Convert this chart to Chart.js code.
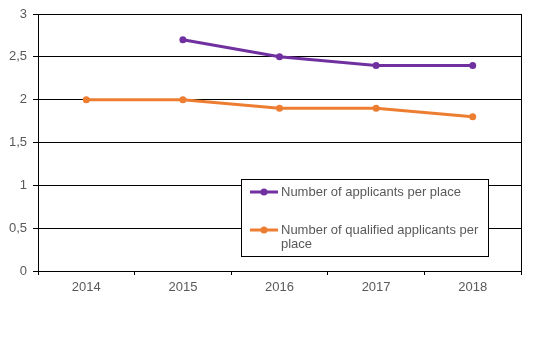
<!DOCTYPE html>
<html>
<head>
<meta charset="utf-8">
<script src="https://cdn.jsdelivr.net/npm/chart.js@4/dist/chart.umd.min.js"></script>
<style>
html,body{margin:0;padding:0;background:#fff;}
#wrap{width:536px;height:354px;position:relative;}
</style>
</head>
<body>
<div id="wrap"><canvas id="c" width="536" height="354"></canvas></div>
<script>
const years = ['2014', '2015', '2016', '2017', '2018'];
const applicantsPerPlace = [null, 2.7, 2.5, 2.4, 2.4];
const qualifiedPerPlace = [2.0, 2.0, 1.9, 1.9, 1.8];
const seriesLabels = ['Number of applicants per place', 'Number of qualified applicants per place'];
const seriesColors = ['#7030A0', '#ED7D31'];

const FONT = '"Liberation Sans", Arial, sans-serif';
const TEXT = '#595959';

const customLegend = {
  id: 'customLegend',
  afterDraw(chart) {
    const ctx = chart.ctx;
    const bx = 241.5, by = 179.5, bw = 247, bh = 77;
    ctx.save();
    ctx.fillStyle = '#fff';
    ctx.fillRect(bx, by, bw, bh);
    ctx.strokeStyle = '#000';
    ctx.lineWidth = 1;
    ctx.strokeRect(bx, by, bw, bh);
    ctx.font = '13px ' + FONT;
    ctx.textBaseline = 'middle';
    ctx.textAlign = 'left';
    const ys = [192, 230];
    const textX = 281, maxW = 205;
    chart.data.datasets.forEach((ds, i) => {
      const y = ys[i];
      ctx.strokeStyle = ds.borderColor;
      ctx.lineWidth = 3;
      ctx.beginPath();
      ctx.moveTo(250, y);
      ctx.lineTo(278, y);
      ctx.stroke();
      ctx.fillStyle = ds.borderColor;
      ctx.beginPath();
      ctx.arc(264, y, 3.5, 0, Math.PI * 2);
      ctx.fill();
      const words = ds.label.split(' ');
      const lines = [];
      let cur = '';
      words.forEach(w => {
        const t = cur ? cur + ' ' + w : w;
        if (ctx.measureText(t).width > maxW && cur) { lines.push(cur); cur = w; }
        else cur = t;
      });
      if (cur) lines.push(cur);
      ctx.fillStyle = TEXT;
      lines.forEach((ln, k) => ctx.fillText(ln, textX, y + k * 14));
    });
    ctx.restore();
  }
};

const rightBorder = {
  id: 'rightBorder',
  beforeDatasetsDraw(chart) {
    const a = chart.chartArea, ctx = chart.ctx;
    ctx.save();
    ctx.strokeStyle = '#000';
    ctx.lineWidth = 1;
    const x = Math.round(a.right) + 0.5;
    ctx.beginPath();
    ctx.moveTo(x, a.top);
    ctx.lineTo(x, a.bottom);
    ctx.stroke();
    ctx.restore();
  }
};

new Chart(document.getElementById('c'), {
  type: 'line',
  data: {
    labels: years,
    datasets: [
      {
        label: seriesLabels[0],
        data: applicantsPerPlace,
        borderColor: seriesColors[0],
        backgroundColor: seriesColors[0],
        borderWidth: 3,
        pointRadius: 3.5,
        pointBorderWidth: 0,
        pointBackgroundColor: seriesColors[0],
        tension: 0,
        spanGaps: false
      },
      {
        label: seriesLabels[1],
        data: qualifiedPerPlace,
        borderColor: seriesColors[1],
        backgroundColor: seriesColors[1],
        borderWidth: 3,
        pointRadius: 3.5,
        pointBorderWidth: 0,
        pointBackgroundColor: seriesColors[1],
        tension: 0
      }
    ]
  },
  options: {
    responsive: false,
    animation: false,
    devicePixelRatio: 1,
    layout: { padding: { top: 14, right: 15, left: 0, bottom: 0 } },
    plugins: {
      legend: { display: false },
      tooltip: { enabled: false }
    },
    scales: {
      x: {
        offset: true,
        grid: {
          offset: true,
          drawOnChartArea: false,
          drawTicks: true,
          tickLength: 4,
          color: '#000'
        },
        border: { color: '#000', width: 1 },
        ticks: {
          color: TEXT,
          font: { family: FONT, size: 13 },
          padding: 5,
          maxRotation: 0
        },
        afterFit(s) { s.height = 83; }
      },
      y: {
        min: 0,
        max: 3,
        grid: {
          color: '#000',
          lineWidth: 1,
          tickLength: 5
        },
        border: { color: '#000', width: 1 },
        ticks: {
          stepSize: 0.5,
          color: TEXT,
          font: { family: FONT, size: 13 },
          padding: 6,
          callback: v => String(v).replace('.', ',')
        },
        afterFit(s) { s.width = 38; }
      }
    }
  },
  plugins: [rightBorder, customLegend]
});
</script>
</body>
</html>
